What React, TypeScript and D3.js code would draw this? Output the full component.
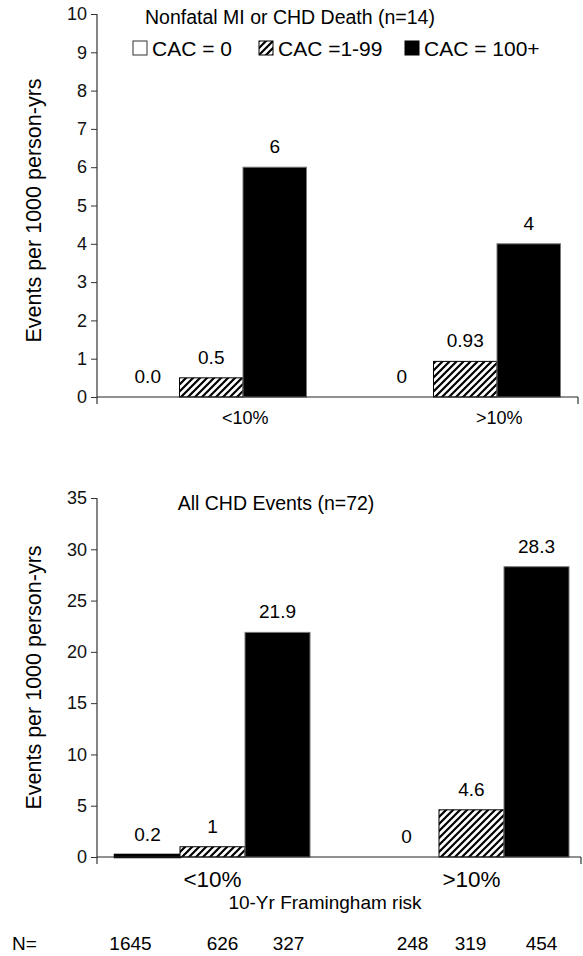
import React, { useEffect, useRef } from 'react';
import * as d3 from 'd3';

// chart data
const categories = ['<10%', '>10%'];
const seriesNames = ['CAC = 0', 'CAC =1-99', 'CAC = 100+'];

const mortalityValues = [[0, 0.5, 6], [0, 0.93, 4]];
const mortalityLabels = [['0.0', '0.5', '6'], ['0', '0.93', '4']];
const mortalityTicks = [0, 1, 2, 3, 4, 5, 6, 7, 8, 9, 10];

const allEventValues = [[0.2, 1, 21.9], [0, 4.6, 28.3]];
const allEventLabels = [['0.2', '1', '21.9'], ['0', '4.6', '28.3']];
const allEventTicks = [0, 5, 10, 15, 20, 25, 30, 35];

const nCounts = [[1645, 626, 327], [248, 319, 454]];

const FONT = '"Liberation Sans", Arial, Helvetica, sans-serif';

function drawPanel(svg, opts) {
  var g = svg.append('g');
  var y = d3.scaleLinear().domain([0, opts.yMax]).range([opts.y0, opts.y1]);
  var x = d3.scaleBand().domain(categories).range(opts.xRange).paddingInner(opts.padInner);
  var xs = d3.scaleBand().domain(seriesNames).range([0, x.bandwidth()]);

  // y axis
  var yAxis = d3.axisLeft(y).tickValues(opts.ticks).tickSize(6).tickPadding(4);
  var ya = g.append('g').attr('transform', 'translate(' + opts.axisX + ',0)').call(yAxis);
  ya.select('.domain').remove();
  ya.selectAll('.tick line').attr('stroke', '#333');
  ya.selectAll('.tick text').attr('font-family', FONT).attr('font-size', 18).attr('fill', '#111');
  g.append('line')
    .attr('x1', opts.axisX).attr('x2', opts.axisX)
    .attr('y1', y(opts.yMax)).attr('y2', y(0) + 7)
    .attr('stroke', '#333').attr('stroke-width', 1.2);

  // bars
  var groups = g.selectAll('.grp').data(opts.values).enter().append('g')
    .attr('transform', function (d, i) { return 'translate(' + x(categories[i]) + ',0)'; });

  groups.selectAll('rect').data(function (d) { return d; }).enter().append('rect')
    .attr('x', function (d, i) { return xs(seriesNames[i]); })
    .attr('y', function (d) { return y(d); })
    .attr('width', xs.bandwidth())
    .attr('height', function (d) { return y(0) - y(d); })
    .attr('fill', function (d, i) { return i === 0 ? '#fff' : i === 1 ? 'url(#hatch)' : '#000'; })
    .attr('stroke', function (d, i) { return i === 2 ? '#777' : '#000'; })
    .attr('stroke-width', function (d, i) { return i === 0 ? 2.5 : 1; })
    .attr('display', function (d) { return d > 0 ? null : 'none'; });

  // value labels
  groups.each(function (row, gi) {
    d3.select(this).selectAll('text').data(row).enter().append('text')
      .attr('x', function (d, i) { return xs(seriesNames[i]) + xs.bandwidth() / 2; })
      .attr('y', function (d) { return y(d) - 14; })
      .attr('text-anchor', 'middle')
      .attr('font-family', FONT).attr('font-size', 19)
      .text(function (d, i) { return opts.labels[gi][i]; });
  });

  // x axis
  g.append('line')
    .attr('x1', opts.axisX).attr('x2', opts.axisEnd)
    .attr('y1', y(0)).attr('y2', y(0))
    .attr('stroke', '#222').attr('stroke-width', 1.2);
  g.append('line')
    .attr('x1', opts.axisEnd).attr('x2', opts.axisEnd)
    .attr('y1', y(0)).attr('y2', y(0) + 7)
    .attr('stroke', '#333').attr('stroke-width', 1.2);

  g.selectAll('.cat').data(categories).enter().append('text')
    .attr('x', function (d) { return x(d) + x.bandwidth() / 2 + opts.catShift; })
    .attr('y', y(0) + opts.catDy)
    .attr('text-anchor', 'middle')
    .attr('font-family', FONT).attr('font-size', opts.catSize)
    .text(function (d) { return d; });

  g.append('text')
    .attr('x', opts.titleX).attr('y', opts.titleY)
    .attr('text-anchor', 'middle')
    .attr('font-family', FONT).attr('font-size', 19.5)
    .text(opts.title);

  var yMid = (y(0) + y(opts.yMax)) / 2 + opts.yLabelShift;
  g.append('text')
    .attr('transform', 'translate(41,' + yMid + ') rotate(-90)')
    .attr('text-anchor', 'middle')
    .attr('font-family', FONT).attr('font-size', 21.5)
    .text('Events per 1000 person-yrs');

  return { x: x, xs: xs };
}

function CacChart() {
  const ref = useRef(null);

  useEffect(() => {
    var svg = d3.select(ref.current);
    svg.selectAll('*').remove();

    var defs = svg.append('defs');
    var pat = defs.append('pattern')
      .attr('id', 'hatch')
      .attr('patternUnits', 'userSpaceOnUse')
      .attr('width', 7).attr('height', 7);
    pat.append('rect').attr('width', 7).attr('height', 7).attr('fill', '#fff');
    pat.append('path')
      .attr('d', 'M0,7 L7,0 M-2,2 L2,-2 M5,9 L9,5')
      .attr('stroke', '#000').attr('stroke-width', 2.2);

    drawPanel(svg, {
      title: 'Nonfatal MI or CHD Death (n=14)', titleX: 290, titleY: 24,
      values: mortalityValues, labels: mortalityLabels, ticks: mortalityTicks,
      yMax: 10, y0: 397, y1: 14, axisX: 97, axisEnd: 578,
      xRange: [116, 560.5], padInner: 0.25, catShift: 34, catDy: 27, catSize: 18,
      yLabelShift: 5,
    });

    var bottom = drawPanel(svg, {
      title: 'All CHD Events (n=72)', titleX: 276, titleY: 510,
      values: allEventValues, labels: allEventLabels, ticks: allEventTicks,
      yMax: 35, y0: 857, y1: 498, axisX: 97, axisEnd: 581,
      xRange: [115, 569], padInner: 0.247, catShift: 0, catDy: 30, catSize: 22.5,
      yLabelShift: 0,
    });

    // legend
    var legendX = [133, 259, 405];
    var lg = svg.append('g').selectAll('g').data(seriesNames).enter().append('g')
      .attr('transform', function (d, i) { return 'translate(' + legendX[i] + ',48)'; });
    lg.append('rect')
      .attr('x', 0).attr('y', -7).attr('width', 14).attr('height', 14)
      .attr('fill', function (d, i) { return i === 0 ? '#fff' : i === 1 ? 'url(#hatch)' : '#000'; })
      .attr('stroke', function (d, i) { return i === 0 ? '#333' : '#000'; })
      .attr('stroke-width', 1);
    lg.append('text')
      .attr('x', 19).attr('y', 7.5)
      .attr('font-family', FONT).attr('font-size', 21)
      .text(function (d) { return d; });

    // x title and N row
    svg.append('text')
      .attr('x', 325).attr('y', 909)
      .attr('text-anchor', 'middle')
      .attr('font-family', FONT).attr('font-size', 19)
      .text('10-Yr Framingham risk');

    svg.append('text')
      .attr('x', 12).attr('y', 950)
      .attr('font-family', FONT).attr('font-size', 19)
      .text('N=');

    // N labels sit roughly under their bars
    var nShift = [[-17, 10, 11], [6, -1, 5]];
    nCounts.forEach(function (row, gi) {
      svg.append('g').selectAll('text').data(row).enter().append('text')
        .attr('x', function (d, i) {
          return bottom.x(categories[gi]) + bottom.xs(seriesNames[i]) + bottom.xs.bandwidth() / 2 + nShift[gi][i];
        })
        .attr('y', 950)
        .attr('text-anchor', 'middle')
        .attr('font-family', FONT).attr('font-size', 19)
        .text(function (d) { return d; });
    });
  }, []);

  return (
    <svg ref={ref} width={583} height={956}
      style={{ position: 'absolute', left: 0, top: 0, background: '#fff' }} />
  );
}

export default function App() {
  return <CacChart />;
}
